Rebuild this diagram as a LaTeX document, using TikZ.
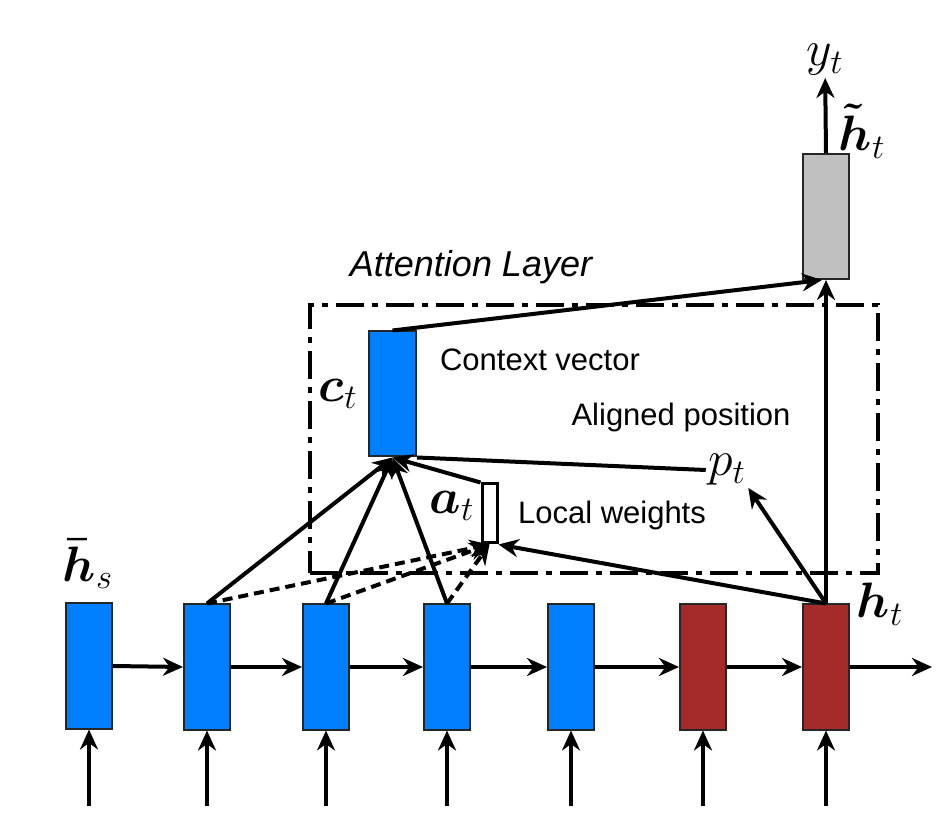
\documentclass[tikz,border=0pt]{standalone}
\usepackage{amsmath}
\usepackage{fontspec}
\setsansfont{Liberation Sans}
\usepackage{tikz}
\usetikzlibrary{arrows.meta, positioning, calc}

\definecolor{encblue}{RGB}{0,127,255}
\definecolor{decred}{RGB}{165,42,42}
\definecolor{outgray}{RGB}{192,192,192}

\tikzset{
  unit/.style={draw=black!85, line width=1pt, minimum width=23pt, minimum height=62.5pt, inner sep=0pt},
  enc/.style={unit, fill=encblue},
  dec/.style={unit, fill=decred},
  conn/.style={line width=2pt, -{Stealth[length=10pt,width=9pt]}},
  weak/.style={conn, dash pattern=on 5pt off 3pt},
  attbox/.style={draw, line width=2pt, dash pattern=on 14pt off 4pt on 3pt off 4pt, inner sep=0pt},
  lbl/.style={font=\fontsize{15.5pt}{18pt}\selectfont\sffamily},
  mlbl/.style={font=\fontsize{23pt}{26pt}\selectfont, inner sep=1pt},
}

\begin{document}
\begin{tikzpicture}[x=0.5pt, y=-0.5pt]
      \useasboundingbox (0,0) rectangle (948,817);

      % attention layer frame
      \node[attbox, minimum width=284pt, minimum height=134pt] (att) at (594,439) {};
      \node[lbl, font=\fontsize{18pt}{21pt}\selectfont\sffamily\itshape] (attlbl) at (471,267) {Attention Layer};

      % source and target states
      \node[enc] (hs) at (89,666) {};
      \foreach \x/\n in {207/s1, 326/s2, 447/s3, 571/s4}
        \node[enc] (\n) at (\x,667) {};
      \node[dec] (r1) at (703,667) {};
      \node[dec] (ht) at (826,667) {};

      \foreach \n in {hs,s1,s2,s3,s4,r1,ht} {
        \coordinate (\n-in) at (\n.south |- 0,806);
        \draw[conn] (\n-in) -- (\n.south);
      }
      \foreach \a/\b in {hs/s1, s1/s2, s2/s3, s3/s4, s4/r1, r1/ht}
        \draw[conn] (\a.east) -- (\b.west);
      \coordinate (out) at (932,667);
      \draw[conn] (ht.east) -- (out);

      % context, weights, output
      \node[enc, minimum width=23.5pt] (ct) at (392.5,394) {};
      \node[draw, line width=1.5pt, fill=white, minimum width=7.5pt, minimum height=29.5pt, inner sep=0pt] (at) at (489.5,513.5) {};
      \node[unit, fill=outgray] (gt) at (826,216.5) {};

      \node[mlbl] (yt) at (825,60) {$y_t$};
      \node[mlbl] (gtl) at (862,131) {$\boldsymbol{\tilde{h}}_t$};
      \node[mlbl] (hsl) at (88,564) {$\boldsymbol{\bar{h}}_s$};
      \node[mlbl] (htl) at (880,604) {$\boldsymbol{h}_t$};
      \node[mlbl, left=4pt of ct] (ctl) {$\boldsymbol{c}_t$};
      \node[mlbl] (atl) at (452,506) {$\boldsymbol{a}_t$};
      \node[mlbl] (pt) at (727,470) {$p_t$};

      \node[lbl] (ctxt) at (540,360) {Context vector};
      \node[lbl] (ptxt) at (681,417) {Aligned position};
      \node[lbl] (atxt) at (612,515) {Local weights};

      % connectors
      \foreach \n in {s1,s2,s3} {
        \draw[conn] (\n.north) -- (ct.south);
        \draw[weak] (\n.north) -- (at.south);
      }
      \draw[conn] (at.north west) -- (ct.south);
      \draw[line width=2pt] (pt.west) -- (ct.south east);
      \draw[conn] (ht.north) -- (at.south east);
      \draw[conn] (ht.north) -- (pt.south east);
      \draw[conn] (ht.north) -- (gt.south);
      \draw[conn] (ct.north) -- ([xshift=-2pt]gt.south);
      \draw[conn] (gt.north) -- (yt);
\end{tikzpicture}
\end{document}
